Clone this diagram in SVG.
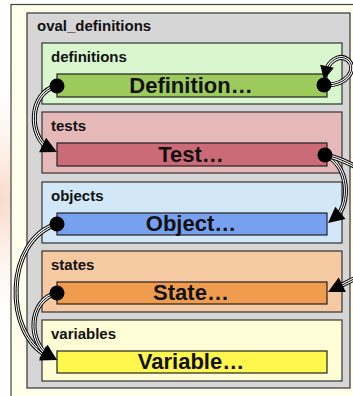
<svg xmlns="http://www.w3.org/2000/svg" width="353" height="396" viewBox="0 0 353 396">
  <defs>
    <radialGradient id="glow" cx="0" cy="200" r="140" gradientUnits="userSpaceOnUse">
      <stop offset="0" stop-color="#f6d2bc" stop-opacity="0.8"/>
      <stop offset="1" stop-color="#ffffff" stop-opacity="0"/>
    </radialGradient>
    <style>
      .box { stroke: #333; stroke-width: 1.2; }
      .bar { stroke: #222; stroke-width: 1.2; }
      .lbl { font-family: "Liberation Sans", Arial, sans-serif; font-weight: bold; font-size: 15px; fill: #111; }
      .big { font-family: "Liberation Sans", Arial, sans-serif; font-weight: bold; font-size: 22px; fill: #111; text-anchor: middle; }
      .w1 { fill: none; stroke: #000; stroke-width: 5; }
      .w2 { fill: none; stroke: #fff; stroke-width: 3; }
      .w3 { fill: none; stroke: #000; stroke-width: 1; }
      .dot { fill: #000; }
      .head { fill: #000; }
    </style>
    <path id="p1" d="M57,86 C 28,92 28,138 50,149"/>
    <path id="p2" d="M324,85 C 347,86 358,69 348,60 C 339,53 328,62 326,72"/>
    <path id="p3" d="M325,155 C 350,165 350,205 336,217"/>
    <path id="p4" d="M325,155 C 335,157 345,161 356,167"/>
    <path id="p5" d="M356,278 L 337,287.5"/>
    <path id="p6" d="M57,224 C 4,240 4,335 48,356"/>
    <path id="p7" d="M57,293 C 28,300 28,342 48,355"/>
  </defs>

  <rect x="0" y="0" width="353" height="396" fill="#ffffff"/>
  <rect x="0" y="0" width="353" height="396" fill="url(#glow)"/>

  <g id="frame">
    <rect x="11" y="4.5" width="350" height="400" fill="#fffeea" stroke="#444" stroke-width="1.2"/>
  </g>

  <g id="oval_definitions">
    <rect x="27" y="13" width="323" height="375" fill="#d6d6d6" class="box"/>
    <text x="37" y="31" class="lbl">oval_definitions</text>
  </g>

  <g id="definitions">
    <rect x="42" y="43" width="300" height="61" fill="#d8f7cf" class="box"/>
    <text x="51" y="62" class="lbl">definitions</text>
    <rect x="57" y="74" width="270" height="23" fill="#9ccb5c" class="bar"/>
    <text x="191" y="93" class="big">Definition…</text>
  </g>

  <g id="tests">
    <rect x="42" y="112" width="300" height="61" fill="#e6b9b9" class="box"/>
    <text x="51" y="131" class="lbl">tests</text>
    <rect x="57" y="143" width="270" height="23" fill="#cc6b78" class="bar"/>
    <text x="191" y="162" class="big">Test…</text>
  </g>

  <g id="objects">
    <rect x="42" y="182" width="300" height="61" fill="#d2e8f8" class="box"/>
    <text x="51" y="201" class="lbl">objects</text>
    <rect x="57" y="213" width="270" height="22" fill="#78a0f0" class="bar"/>
    <text x="191" y="231" class="big">Object…</text>
  </g>

  <g id="states">
    <rect x="42" y="251" width="300" height="61" fill="#f5c9a2" class="box"/>
    <text x="51" y="270" class="lbl">states</text>
    <rect x="57" y="282" width="270" height="22" fill="#f09c4e" class="bar"/>
    <text x="191" y="300" class="big">State…</text>
  </g>

  <g id="variables">
    <rect x="42" y="320" width="300" height="61" fill="#fffdd6" class="box"/>
    <text x="51" y="339" class="lbl">variables</text>
    <rect x="57" y="351" width="270" height="22" fill="#fff64e" class="bar"/>
    <text x="191" y="369" class="big">Variable…</text>
  </g>

  <g id="connectors">
    <use href="#p1" class="w1"/><use href="#p1" class="w2"/><use href="#p1" class="w3"/>
    <use href="#p2" class="w1"/><use href="#p2" class="w2"/><use href="#p2" class="w3"/>
    <use href="#p3" class="w1"/><use href="#p3" class="w2"/><use href="#p3" class="w3"/>
    <use href="#p4" class="w1"/><use href="#p4" class="w2"/><use href="#p4" class="w3"/>
    <use href="#p5" class="w1"/><use href="#p5" class="w2"/><use href="#p5" class="w3"/>
    <use href="#p6" class="w1"/><use href="#p6" class="w2"/><use href="#p6" class="w3"/>
    <use href="#p7" class="w1"/><use href="#p7" class="w2"/><use href="#p7" class="w3"/>
    <polygon class="head" points="57,152 39.1,152.2 46.1,137.8"/>
    <polygon class="head" points="324,80 320.2,64.8 333.8,67.8"/>
    <polygon class="head" points="328,223 335.3,206.7 345.5,219.1"/>
    <polygon class="head" points="328,292 338.7,277.6 345.9,291.9"/>
    <polygon class="head" points="57,360 39.1,360.4 45.9,346"/>
    <polygon class="head" points="57,360 39.2,358.4 47.6,344.8"/>
    <circle cx="57" cy="86" r="7.5" class="dot"/>
    <circle cx="324" cy="85" r="7.5" class="dot"/>
    <circle cx="325" cy="155" r="7.5" class="dot"/>
    <circle cx="57" cy="224" r="7.5" class="dot"/>
    <circle cx="57" cy="293" r="7.5" class="dot"/>
  </g>
</svg>
